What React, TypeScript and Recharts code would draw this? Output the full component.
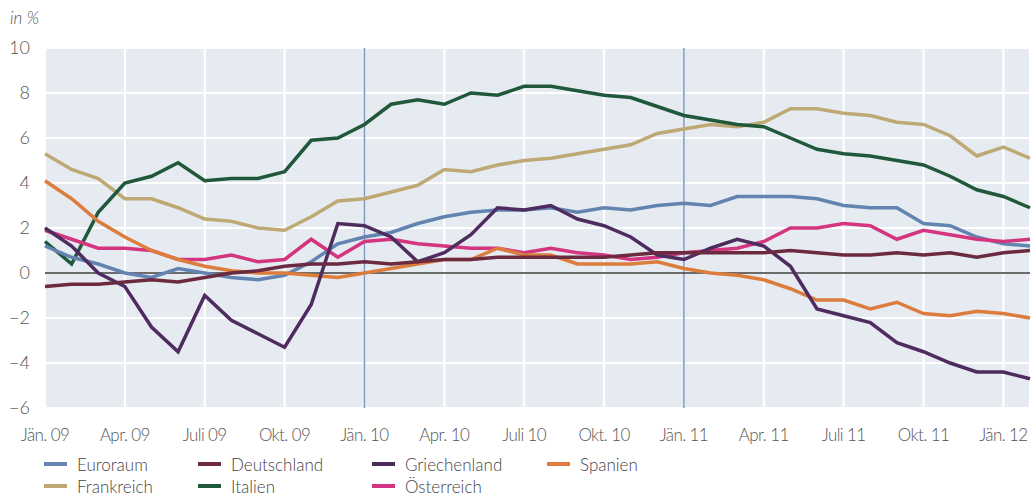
import {
  CartesianGrid,
  Line,
  LineChart,
  ReferenceLine,
  XAxis,
  YAxis,
} from "recharts";

// Monatswerte Jän. 09 bis Feb. 12 (38 Monate)
const euroraum = [
  1.2, 0.7, 0.4, 0.0, -0.2, 0.2, 0.0, -0.2, -0.3, -0.1, 0.5, 1.3,
  1.6, 1.8, 2.2, 2.5, 2.7, 2.8, 2.8, 2.9, 2.7, 2.9, 2.8, 3.0,
  3.1, 3.0, 3.4, 3.4, 3.4, 3.3, 3.0, 2.9, 2.9, 2.2, 2.1, 1.6, 1.3, 1.2,
];
const deutschland = [
  -0.6, -0.5, -0.5, -0.4, -0.3, -0.4, -0.2, 0.0, 0.1, 0.3, 0.4, 0.4,
  0.5, 0.4, 0.5, 0.6, 0.6, 0.7, 0.7, 0.7, 0.7, 0.7, 0.8, 0.9,
  0.9, 0.9, 0.9, 0.9, 1.0, 0.9, 0.8, 0.8, 0.9, 0.8, 0.9, 0.7, 0.9, 1.0,
];
const griechenland = [
  2.0, 1.2, 0.0, -0.6, -2.4, -3.5, -1.0, -2.1, -2.7, -3.3, -1.4, 2.2,
  2.1, 1.6, 0.5, 0.9, 1.7, 2.9, 2.8, 3.0, 2.4, 2.1, 1.6, 0.8,
  0.6, 1.1, 1.5, 1.2, 0.3, -1.6, -1.9, -2.2, -3.1, -3.5, -4.0, -4.4, -4.4, -4.7,
];
const spanien = [
  4.1, 3.3, 2.3, 1.6, 1.0, 0.6, 0.3, 0.1, 0.0, 0.0, -0.1, -0.2,
  0.0, 0.2, 0.4, 0.6, 0.6, 1.1, 0.8, 0.8, 0.4, 0.4, 0.4, 0.5,
  0.2, 0.0, -0.1, -0.3, -0.7, -1.2, -1.2, -1.6, -1.3, -1.8, -1.9, -1.7, -1.8, -2.0,
];
const frankreich = [
  5.3, 4.6, 4.2, 3.3, 3.3, 2.9, 2.4, 2.3, 2.0, 1.9, 2.5, 3.2,
  3.3, 3.6, 3.9, 4.6, 4.5, 4.8, 5.0, 5.1, 5.3, 5.5, 5.7, 6.2,
  6.4, 6.6, 6.5, 6.7, 7.3, 7.3, 7.1, 7.0, 6.7, 6.6, 6.1, 5.2, 5.6, 5.1,
];
const italien = [
  1.4, 0.4, 2.7, 4.0, 4.3, 4.9, 4.1, 4.2, 4.2, 4.5, 5.9, 6.0,
  6.6, 7.5, 7.7, 7.5, 8.0, 7.9, 8.3, 8.3, 8.1, 7.9, 7.8, 7.4,
  7.0, 6.8, 6.6, 6.5, 6.0, 5.5, 5.3, 5.2, 5.0, 4.8, 4.3, 3.7, 3.4, 2.9,
];
const oesterreich = [
  1.9, 1.5, 1.1, 1.1, 1.0, 0.6, 0.6, 0.8, 0.5, 0.6, 1.5, 0.7,
  1.4, 1.5, 1.3, 1.2, 1.1, 1.1, 0.9, 1.1, 0.9, 0.8, 0.6, 0.7,
  0.9, 1.0, 1.1, 1.4, 2.0, 2.0, 2.2, 2.1, 1.5, 1.9, 1.7, 1.5, 1.4, 1.5,
];

const quarterTicks = [0, 3, 6, 9, 12, 15, 18, 21, 24, 27, 30, 33, 36];
const quarterLabels = [
  "Jän. 09", "Apr. 09", "Juli 09", "Okt. 09",
  "Jän. 10", "Apr. 10", "Juli 10", "Okt. 10",
  "Jän. 11", "Apr. 11", "Juli 11", "Okt. 11",
  "Jän. 12",
];
const yTicks = [-6, -4, -2, 0, 2, 4, 6, 8, 10];

const SERIES = [
  { key: "frankreich", name: "Frankreich", values: frankreich, color: "#bea975" },
  { key: "italien", name: "Italien", values: italien, color: "#1f583b" },
  { key: "euroraum", name: "Euroraum", values: euroraum, color: "#6383b0" },
  { key: "oesterreich", name: "Österreich", values: oesterreich, color: "#d3357f" },
  { key: "spanien", name: "Spanien", values: spanien, color: "#dc7d3e" },
  { key: "griechenland", name: "Griechenland", values: griechenland, color: "#4e2c5f" },
  { key: "deutschland", name: "Deutschland", values: deutschland, color: "#6c2a40" },
];

// Legende: zwei Zeilen wie im Original
const LEGEND_ROWS = [
  ["euroraum", "deutschland", "griechenland", "spanien"],
  ["frankreich", "italien", "oesterreich"],
];
const LEGEND_X = [44, 198, 372, 547];

const FONT = "Lato, 'Open Sans', sans-serif";

const data = euroraum.map((_, i) => {
  const row: Record<string, number> = { i };
  SERIES.forEach((s) => {
    row[s.key] = s.values[i];
  });
  return row;
});

export default function App() {
  return (
    <div
      style={{
        position: "absolute",
        left: 0,
        top: 0,
        width: 1031,
        height: 495,
        background: "#fff",
        fontFamily: FONT,
      }}
    >
      <div
        style={{
          position: "absolute",
          left: 10,
          top: 7,
          fontSize: 17,
          fontStyle: "italic",
          fontWeight: 300,
          color: "#555",
        }}
      >
        in %
      </div>
      <LineChart
        width={1031}
        height={450}
        data={data}
        margin={{ top: 48, right: 1, left: 0, bottom: 0 }}
      >
        <CartesianGrid
          stroke="#ffffff"
          strokeWidth={2}
          fill="#e6ebf1"
          fillOpacity={1}
        />
        <XAxis
          dataKey="i"
          type="number"
          domain={[0, 37]}
          ticks={quarterTicks}
          tickFormatter={(v: number) => quarterLabels[quarterTicks.indexOf(v)]}
          axisLine={false}
          tickLine={false}
          tickMargin={15}
          height={42}
          interval={0}
          tick={{
            fontSize: 17,
            fill: "#555",
            fontFamily: FONT,
            fontWeight: 300,
            letterSpacing: -0.6,
          }}
        />
        <YAxis
          domain={[-6, 10]}
          ticks={yTicks}
          tickFormatter={(v: number) => (v < 0 ? "\u2212" + Math.abs(v) : String(v))}
          axisLine={false}
          tickLine={false}
          width={45}
          tickMargin={9}
          tick={{ fontSize: 18, fill: "#555", fontFamily: FONT, fontWeight: 300 }}
        />
        <ReferenceLine x={12} stroke="#7d96bc" strokeWidth={1.5} />
        <ReferenceLine x={24} stroke="#7d96bc" strokeWidth={1.5} />
        <ReferenceLine y={0} stroke="#3a3a3a" strokeWidth={1.5} />
        {SERIES.map((s) => (
          <Line
            key={s.key}
            type="linear"
            dataKey={s.key}
            name={s.name}
            stroke={s.color}
            strokeWidth={3.5}
            dot={false}
            activeDot={false}
            isAnimationActive={false}
          />
        ))}
      </LineChart>
      {LEGEND_ROWS.map((row, r) =>
        row.map((key, c) => {
          const s = SERIES.find((x) => x.key === key)!;
          return (
            <div
              key={key}
              style={{
                position: "absolute",
                left: LEGEND_X[c],
                top: 464 + r * 22 - 11,
                height: 22,
                display: "flex",
                alignItems: "center",
                fontSize: 17,
                fontWeight: 300,
                color: "#444",
              }}
            >
              <span
                style={{
                  display: "inline-block",
                  width: 23,
                  height: 4,
                  background: s.color,
                  marginRight: 10,
                }}
              />
              {s.name}
            </div>
          );
        })
      )}
    </div>
  );
}
